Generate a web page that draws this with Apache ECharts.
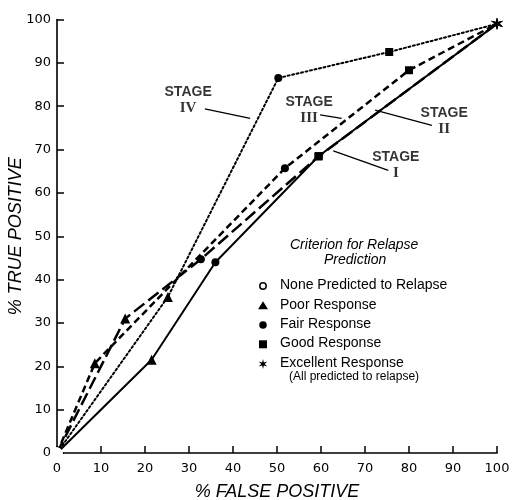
<!DOCTYPE html>
<html><head><meta charset="utf-8">
<script src="https://cdn.jsdelivr.net/npm/echarts@6/dist/echarts.min.js"></script>
<style>html,body{margin:0;padding:0;background:#fff}#c{width:513px;height:500px}</style>
</head><body><div id="c"></div>
<script>
// ---- data ----
const criteria = ['None Predicted to Relapse', 'Poor Response', 'Fair Response', 'Good Response', 'Excellent Response'];
const criteriaNote = '(All predicted to relapse)';
const stageNames = ['I', 'II', 'III', 'IV'];
const stage1 = [[0, 0], [21.5, 21.5], [36, 44], [59.5, 68.5], [100, 99]];
const stage2 = [[0, 0], [15.5, 31], [32.7, 44.7], [59.4, 68.4], [100, 99]];
const stage3 = [[0, 0], [8.6, 20.7], [51.8, 65.7], [80, 88.3], [100, 99]];
const stage4 = [[0, 0], [25.2, 36], [50.3, 86.5], [75.5, 92.5], [100, 99]];
// annotation anchors (data coords): label centre, leader start, leader end
const labelPos = [[77, 66.4], [88, 76.6], [57.3, 79.2], [29.8, 81.4]];
const leaders = [
  [[62.8, 69.7], [75.3, 65.2]],
  [[72.3, 79.1], [85.2, 75.6]],
  [[59.8, 78.0], [64.7, 77.2]],
  [[33.6, 79.4], [43.9, 77.2]]
];
const xTicks = [0, 10, 20, 30, 40, 50, 60, 70, 80, 90, 100];

const STAR = 'path://M0 -10 L1.75 -3.03 L8.66 -5 L3.5 0 L8.66 5 L1.75 3.03 L0 10 L-1.75 3.03 L-8.66 5 L-3.5 0 L-8.66 -5 L-1.75 -3.03 Z';
const starPts = [[0,-10],[1.75,-3.03],[8.66,-5],[3.5,0],[8.66,5],[1.75,3.03],[0,10],[-1.75,3.03],[-8.66,5],[-3.5,0],[-8.66,-5],[-1.75,-3.03]];
const symbols = ['emptyCircle', 'triangle', 'circle', 'rect', STAR];
const sizes = [9, 10, 8, 8, 12];

function pts(arr) {
  return arr.map((p, i) => ({
    value: p, symbol: symbols[i], symbolSize: sizes[i],
    itemStyle: i === 0 ? {color: '#fff', borderColor: '#000', borderWidth: 1.5} : {color: '#000', borderWidth: 0}
  }));
}
const styles = [
  {type: 'solid', width: 2},
  {type: [13, 5], width: 2.5},
  {type: [7, 4], width: 2.5},
  {type: [2, 2.6], width: 2}
];
const stages = [stage1, stage2, stage3, stage4];

const series = [];
stages.forEach((s, k) => {
  series.push({
    type: 'line', data: pts(s), showSymbol: true, z: 3 + (k === 0 ? 1 : 0),
    lineStyle: {color: '#000', width: styles[k].width, type: styles[k].type, cap: k === 3 ? 'round' : 'butt'},
    animation: false, silent: true
  });
});
leaders.forEach(l => {
  series.push({type: 'line', data: l, symbol: 'none', lineStyle: {color: '#000', width: 1.3}, animation: false, silent: true});
});
series.push({
  type: 'scatter', symbolSize: 0, animation: false, silent: true,
  data: labelPos.map((p, i) => ({value: p, name: stageNames[i]})),
  label: {
    show: true, position: 'inside',
    formatter: p => '{a|STAGE}\n{b|' + p.name + '}',
    rich: {
      a: {fontFamily: 'Liberation Sans', fontWeight: 'bold', fontSize: 14, color: '#000', lineHeight: 16, align: 'center'},
      b: {fontFamily: 'Liberation Serif', fontWeight: 'bold', fontSize: 15, color: '#000', lineHeight: 16, align: 'center'}
    }
  }
});

const chart = echarts.init(document.getElementById('c'), null, {renderer: 'canvas'});
const axisCommon = {
  type: 'value', min: 0, max: 100, interval: 10,
  splitLine: {show: false},
  axisLine: {show: true, lineStyle: {color: '#000', width: 1.6}},
  axisTick: {show: true, inside: true, length: 7, lineStyle: {color: '#000', width: 1.5}},
  axisLabel: {color: '#000', fontFamily: 'DejaVu Sans', fontSize: 13},
  nameLocation: 'middle',
  nameMoveOverlap: false,
  nameTextStyle: {color: '#000', fontFamily: 'Liberation Sans', fontStyle: 'italic', fontSize: 18}
};
const lx = 263, tx = 280;
const legendY = [286, 305.7, 325, 344.3, 364];
const g = [
  {type: 'text', x: 290, y: 238, style: {text: 'Criterion for Relapse', font: 'italic 14px "Liberation Sans"', fill: '#000'}},
  {type: 'text', x: 324, y: 253, style: {text: 'Prediction', font: 'italic 14px "Liberation Sans"', fill: '#000'}},
  {type: 'circle', shape: {cx: lx, cy: legendY[0], r: 3.2}, style: {fill: '#fff', stroke: '#000', lineWidth: 1.5}},
  {type: 'polygon', shape: {points: [[lx, legendY[1] - 4.5], [lx + 5, legendY[1] + 3.5], [lx - 5, legendY[1] + 3.5]]}, style: {fill: '#000'}},
  {type: 'circle', shape: {cx: lx, cy: legendY[2], r: 3.8}, style: {fill: '#000'}},
  {type: 'rect', shape: {x: lx - 4, y: legendY[3] - 4, width: 8, height: 8}, style: {fill: '#000'}},
  {type: 'polygon', shape: {points: starPts.map(p => [lx + p[0] * 0.5, legendY[4] + p[1] * 0.5])}, style: {fill: '#000'}}
];
criteria.forEach((t, i) => {
  g.push({type: 'text', x: tx, y: legendY[i] - 8, style: {text: t, font: '14px "Liberation Sans"', fill: '#000'}});
});
g.push({type: 'text', x: 289, y: 371, style: {text: criteriaNote, font: '12px "Liberation Sans"', fill: '#000'}});

chart.setOption({
  animation: false,
  backgroundColor: '#fff',
  grid: {left: 57, right: 16, top: 19.5, bottom: 47, containLabel: false, outerBoundsMode: 'none'},
  xAxis: Object.assign({}, axisCommon, {name: '% FALSE POSITIVE', nameGap: 30, axisLabel: Object.assign({}, axisCommon.axisLabel, {margin: 9})}),
  yAxis: Object.assign({}, axisCommon, {name: '% TRUE POSITIVE', nameGap: 32, axisLabel: Object.assign({}, axisCommon.axisLabel, {margin: 6})}),
  series: series,
  graphic: g
});
</script></body></html>
